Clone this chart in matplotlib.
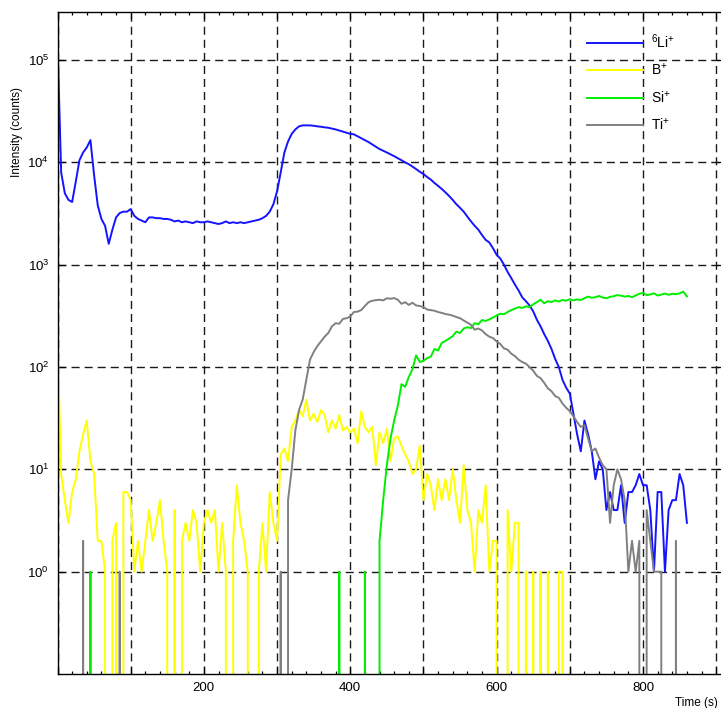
import numpy as np
import matplotlib
matplotlib.use("Agg")
import matplotlib.pyplot as plt
from matplotlib.ticker import FuncFormatter, MultipleLocator, NullLocator

# sampling time (s), one point every 5 s
time = np.arange(0, 865, 5)

# 6Li+ counts, one row per 100 s
li = [150000, 8000, 5000, 4300, 4100, 6500, 10500, 12500, 14000, 16500,
      7500, 3800, 2800, 2400, 1600, 2200, 2900, 3200, 3300, 3300,
      3500, 3000, 2800, 2700, 2600, 2900, 2900, 2850, 2850, 2800,
      2800, 2750, 2650, 2700, 2600, 2650, 2600, 2550, 2650, 2600,
      2600, 2650, 2600, 2550, 2500, 2550, 2650, 2550, 2600, 2550,
      2600, 2550, 2600, 2650, 2700, 2750, 2850, 3000, 3300, 3900,
      5200, 8000, 12500, 16000, 19000, 21000, 22500, 23000, 23000, 23000,
      22800, 22500, 22300, 22000, 21800, 21400, 21000, 20500, 20000, 19500,
      19000, 18800, 18000, 17200, 16500, 15800, 15000, 14200, 13500, 13000,
      12500, 12000, 11500, 11000, 10500, 10000, 9600, 9100, 8600, 8100,
      7700, 7200, 6800, 6300, 5900, 5500, 5100, 4700, 4300, 3900,
      3600, 3300, 2950, 2650, 2400, 2200, 1950, 1750, 1650, 1450,
      1250, 1150, 1000, 850, 740, 640, 560, 480, 440, 400,
      350, 290, 250, 210, 180, 150, 120, 100, 75, 63,
      55, 35, 22, 15, 30, 22, 15, 8, 12, 10,
      4, 6, 4, 4, 7, 3, 6, 6, 7, 9,
      7, 7, 4, 1, 6, 6, 1, 4, 5, 5, 9, 7, 3]

# B+ counts
b = [200, 9, 5, 3, 6, 8, 15, 22, 30, 12, 9, 2, 2, 1, 0, 2, 3, 0, 6, 6,
     5, 1, 2, 1, 2, 4, 2, 3, 5, 2, 1, 0, 4, 0, 2, 3, 2, 4, 3, 1,
     3, 4, 3, 4, 1, 3, 1, 0, 2, 7, 3, 2, 1, 0, 0, 1, 3, 1, 6, 3,
     2, 14, 16, 12, 26, 30, 38, 33, 48, 30, 35, 29, 38, 34, 23, 30, 25, 34, 24, 26,
     23, 25, 18, 37, 26, 23, 26, 11, 23, 18, 25, 12, 20, 21, 17, 14, 12, 9, 10, 17,
     5, 9, 7, 4, 8, 5, 8, 5, 10, 5, 3, 11, 4, 3, 1, 4, 3, 7, 1, 2,
     2, 0, 0, 4, 1, 3, 3, 0, 1, 0, 1, 0, 1, 0, 1, 0, 0, 1, 1, 0,
     0, 0, 0, 0, 0, 0, 0, 0, 0, 0, 0, 0, 0, 0, 0, 0, 0, 0, 0, 0,
     0, 0, 0, 0, 0, 0, 0, 0, 0, 0, 0, 0, 0]

# Si+ counts
si = [0, 0, 0, 0, 0, 0, 0, 0, 0, 1, 0, 0, 0, 0, 0, 0, 0, 0, 0, 0,
      0, 0, 0, 0, 0, 0, 0, 0, 0, 0, 0, 0, 0, 0, 0, 0, 0, 0, 0, 0,
      0, 0, 0, 0, 0, 0, 0, 0, 0, 0, 0, 0, 0, 0, 0, 0, 0, 0, 0, 0,
      0, 0, 0, 0, 0, 0, 0, 0, 0, 0, 0, 0, 0, 0, 0, 0, 0, 1, 0, 0,
      0, 0, 0, 0, 1, 0, 0, 0, 2, 5, 11, 20, 30, 42, 68, 64, 80, 95, 130, 112,
      115, 122, 126, 150, 145, 172, 180, 190, 200, 222,
      215, 238, 245, 240, 268, 262, 288, 282, 292, 305,
      318, 332, 328, 345, 360, 372, 385, 378, 392, 385,
      410, 430, 455, 420, 440, 432, 448, 437, 452, 445,
      460, 448, 458, 452, 470, 488, 475, 482, 495, 478,
      470, 485, 492, 505, 498, 488, 495, 482, 500, 520,
      530, 505, 512, 525, 500, 510, 522, 508, 520, 515, 525, 545, 490]

# Ti+ counts
ti = [1, 0, 0, 0, 0, 0, 0, 2, 0, 0, 0, 0, 0, 0, 0, 0, 0, 1, 0, 0,
      0, 0, 0, 0, 0, 0, 0, 0, 0, 0, 0, 0, 0, 0, 0, 0, 0, 0, 0, 0,
      0, 0, 0, 0, 0, 0, 0, 0, 0, 0, 0, 0, 0, 0, 0, 0, 0, 0, 0, 0,
      0, 1, 0, 5, 10, 24, 38, 48, 75, 118, 140, 160, 178, 198, 215, 250, 268, 265, 295, 300,
      312, 345, 348, 360, 395, 430, 445, 450, 455, 448,
      470, 465, 472, 455, 415, 430, 405, 425, 400, 395,
      385, 365, 360, 355, 345, 338, 330, 325, 318, 308,
      300, 285, 272, 258, 232, 238, 228, 210, 198, 192,
      178, 168, 152, 148, 135, 128, 118, 112, 108, 100,
      92, 82, 78, 70, 62, 58, 52, 50, 44, 40,
      37, 33, 29, 26, 27, 20, 15, 16, 13, 11,
      10, 3, 7, 10, 8, 5, 1, 2, 1, 2,
      0, 4, 2, 1, 1, 1, 0, 0, 0, 2, 0, 0, 0]

labels = [r"$^{6}$Li$^{+}$", r"B$^{+}$", r"Si$^{+}$", r"Ti$^{+}$"]
colors = ["#1414ff", "#ffff00", "#00ee00", "#808080"]

plt.rcParams["font.family"] = ["Liberation Sans", "DejaVu Sans"]
plt.rcParams["mathtext.fontset"] = "custom"
plt.rcParams["mathtext.rm"] = "Liberation Sans"
plt.rcParams["mathtext.it"] = "Liberation Sans:italic"
plt.rcParams["mathtext.bf"] = "Liberation Sans:bold"

fig = plt.figure(figsize=(7.21, 7.08), dpi=100)
ax = fig.add_axes([57.5 / 721, 34 / 708, 666 / 721, 662 / 708])

for series, lab, col in zip([li, b, si, ti], labels, colors):
    ax.plot(time, series, color=col, lw=1.4, label=lab)

ax.set_yscale("log")
ax.set_xlim(0, 910)
ax.set_ylim(0.1, 2.95e5)

ax.set_yticks([1, 10, 100, 1e3, 1e4, 1e5])
ax.yaxis.set_minor_locator(NullLocator())
ax.xaxis.set_major_locator(MultipleLocator(100))
ax.xaxis.set_minor_locator(MultipleLocator(20))
ax.xaxis.set_major_formatter(FuncFormatter(
    lambda v, p: "%d" % v if v > 0 and int(round(v)) % 200 == 0 else ""))

ax.tick_params(which="both", direction="in", top=True, right=True,
               labelsize=9.5, width=0.9)
ax.tick_params(which="major", length=5, pad=6)
ax.tick_params(which="minor", length=2.5)

ax.grid(True, which="major", color="#1a1a1a", lw=1.0, ls=(0, (5.8, 3.6)))

for sp in ax.spines.values():
    sp.set_linewidth(1.0)

ax.set_ylabel("Intensity (counts)", fontsize=8.5)
ax.yaxis.set_label_coords(-0.052, 0.818)
ax.set_xlabel("Time (s)", fontsize=8.5, ha="left")
ax.xaxis.set_label_coords(0.927, -0.034)

ax.legend(loc="upper left", bbox_to_anchor=(587 / 721, 1 - 32 / 708),
          bbox_transform=fig.transFigure, frameon=False, fontsize=10,
          handlelength=4.0, handletextpad=0.6, labelspacing=0.82,
          borderpad=0, borderaxespad=0)

fig.savefig("out.png", dpi=100)
plt.close()
